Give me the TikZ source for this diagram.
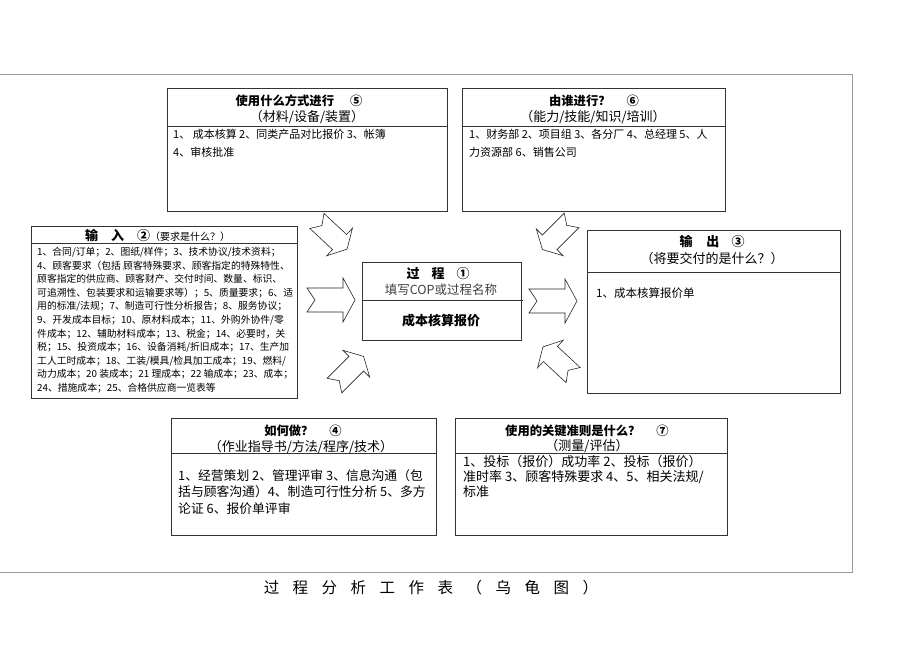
\documentclass[tikz,border=0pt]{standalone}
\usepackage{fontspec}
\setmainfont{Noto Sans CJK SC}

\newcommand{\fatarrow}[3]{%
  \draw[blockarrow, shift={#1}, rotate=#2, scale=#3]
    (-24,12) -- (12,12) -- (12,22) -- (24,0) -- (12,-22) -- (12,-12) -- (-24,-12) -- (-16,0) -- cycle;}
\newcommand{\tgap}{\hspace{13.5pt}}

\begin{document}
\begin{tikzpicture}[x=1pt,y=1pt,
    box/.style={draw=black!80, line width=0.8pt},
    head/.style={inner sep=0pt, font=\fontsize{12.3}{14}\selectfont\bfseries},
    sub/.style={inner sep=0pt, font=\fontsize{13}{14}\selectfont},
    body/.style={anchor=north west, inner sep=0pt, align=left},
    blockarrow/.style={draw=black!85, fill=white, line width=0.6pt, line join=miter}]
    \useasboundingbox (0,0) rectangle (920,651);

    % Outer frame
    \draw[gray!80, line width=0.8pt] (0,577) -- (852,577) -- (852,79) -- (0,79);

    % Boxes
    \draw[box] (167,563) rectangle (447,440);
    \draw[box] (167,525) -- (447,525);
    \draw[box] (462,563) rectangle (725,440);
    \draw[box] (462,525) -- (725,525);
    \draw[box] (31,425) rectangle (297,253);
    \draw[box] (31,408) -- (297,408);
    \draw[box] (587,421) rectangle (840,258);
    \draw[box] (587,379) -- (840,379);
    \draw[box] (362,389) rectangle (521,311);
    \draw[box] (362,351) -- (523,351);
    \draw[box] (171,233) rectangle (436,116);
    \draw[box] (171,198) -- (436,198);
    \draw[box] (455,233) rectangle (727,116);
    \draw[box] (455,198) -- (727,198);

    % How (5)
    \node[head] (howT) at (299,550) {使用什么方式进行\hspace{16pt}⑤};
    \node[sub] (howS) at (307,534) {（材料/设备/装置）};
    \node[body, font=\fontsize{11}{18}\selectfont] (howB) at (173,522)
      {1、 成本核算 2、同类产品对比报价 3、帐簿\\4、审核批准};

    % Who (6)
    \node[head] (whoT) at (594,550) {由谁进行？\hspace{16pt}⑥};
    \node[sub] (whoS) at (593,534) {（能力/技能/知识/培训）};
    \node[body, font=\fontsize{11}{18}\selectfont] (whoB) at (469,522)
      {1、财务部 2、项目组 3、各分厂 4、总经理 5、人\\力资源部 6、销售公司};

    % Input (2)
    \node[inner sep=0pt, anchor=west] (inT) at (85,415)
      {{\fontsize{13}{14}\selectfont\bfseries 输\hspace{13pt}入\hspace{13pt}②}{\fontsize{10}{12}\selectfont（要求是什么？）}};
    \node[body, font=\fontsize{9.8}{13.6}\selectfont] (inB) at (37,404)
      {1、合同/订单；2、图纸/样件；3、技术协议/技术资料；\\
       4、顾客要求（包括 顾客特殊要求、顾客指定的特殊特性、\\
       顾客指定的供应商、顾客财产、交付时间、数量、标识、\\
       可追溯性、包装要求和运输要求等）；5、质量要求；6、适\\
       用的标准/法规；7、制造可行性分析报告；8、服务协议；\\
       9、开发成本目标；10、原材料成本；11、外购外协件/零\\
       件成本；12、辅助材料成本；13、税金；14、必要时，关\\
       税；15、投资成本；16、设备消耗/折旧成本；17、生产加\\
       工人工时成本；18、工装/模具/检具加工成本；19、燃料/\\
       动力成本；20 装成本；21 理成本；22 输成本；23、成本；\\
       24、措施成本；25、合格供应商一览表等};

    % Output (3)
    \node[head, font=\fontsize{13}{14}\selectfont\bfseries] (outT) at (712,409) {输\hspace{14pt}出\hspace{12pt}③};
    \node[sub] (outS) at (712,392) {（将要交付的是什么？）};
    \node[inner sep=0pt, anchor=west, font=\fontsize{11.5}{12}\selectfont] (outB) at (596,358) {1、成本核算报价单};

    % Process (1)
    \node[head, font=\fontsize{13}{14}\selectfont\bfseries] (procT) at (438,377) {过\hspace{12pt}程\hspace{12pt}①};
    \node[sub, font=\fontsize{12.5}{14}\selectfont, text=black!75] (procS) at (441,361) {填写COP或过程名称};
    \node[head, font=\fontsize{13}{14}\selectfont\bfseries] (procB) at (441,330) {成本核算报价};

    % With what (4)
    \node[head] (withT) at (303,220) {如何做？\hspace{16pt}④};
    \node[sub] (withS) at (301,204) {（作业指导书/方法/程序/技术）};
    \node[body, font=\fontsize{12.8}{16.8}\selectfont] (withB) at (178,182)
      {1、经营策划 2、管理评审 3、信息沟通（包\\括与顾客沟通）4、制造可行性分析 5、多方\\论证 6、报价单评审};

    % Criteria (7)
    \node[head] (critT) at (587,220) {使用的关键准则是什么？\hspace{16pt}⑦};
    \node[sub] (critS) at (587,205) {（测量/评估）};
    \node[body, font=\fontsize{13}{15}\selectfont] (critB) at (463,196)
      {1、投标（报价）成功率 2、投标（报价）\\准时率 3、顾客特殊要求 4、5、相关法规/\\标准};

    % Block arrows
    \fatarrow{(332,416)}{-43}{0.86}
    \fatarrow{(331,351)}{0}{1}
    \fatarrow{(349,280)}{45}{0.86}
    \fatarrow{(557,416)}{-135}{0.86}
    \fatarrow{(553,350)}{0}{1}
    \fatarrow{(558,290)}{137}{0.86}

    % Title
    \node[inner sep=0pt, font=\fontsize{15.5}{18}\selectfont] (sheet) at (431,63)
      {过\tgap 程\tgap 分\tgap 析\tgap 工\tgap 作\tgap 表\tgap （\tgap 乌\tgap 龟\tgap 图\tgap ）};
\end{tikzpicture}
\end{document}
